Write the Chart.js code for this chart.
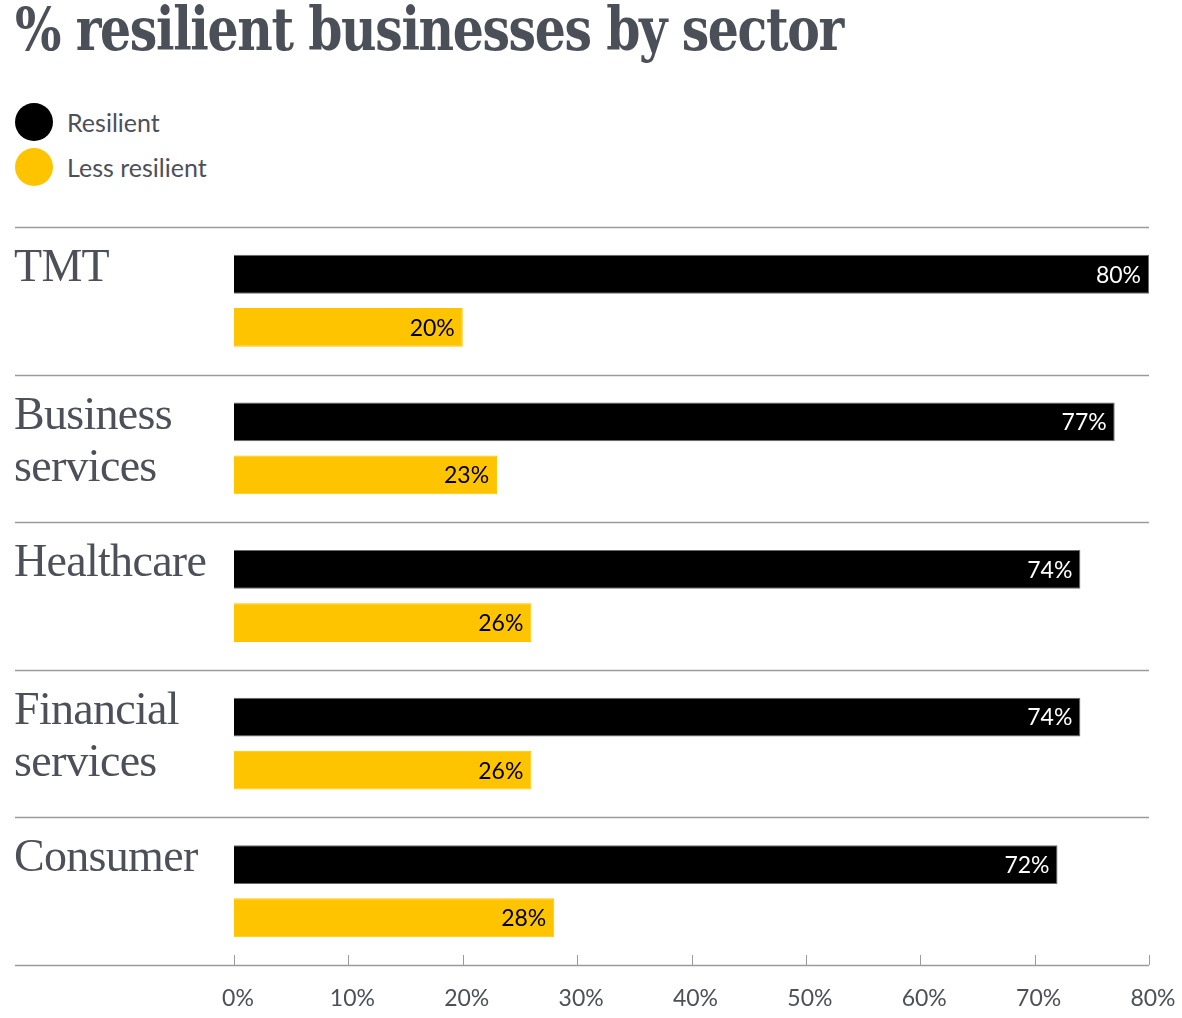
<!DOCTYPE html>
<html>
<head>
<meta charset="utf-8">
<script src="https://cdn.jsdelivr.net/npm/chart.js@4.4.0/dist/chart.umd.min.js"></script>
<style>
  body { margin: 0; background: #fff; width: 1182px; height: 1018px; overflow: hidden; position: relative; }
  #title { position: absolute; left: 15px; top: -6px; font-family: "DejaVu Serif Condensed", "DejaVu Serif", serif; font-weight: bold; font-size: 60px; letter-spacing: -1.5px; color: #4b4f58; white-space: nowrap; transform: scaleX(0.905); transform-origin: 0 0; }
  .leg { position: absolute; left: 15px; height: 38px; display: flex; align-items: center; font-family: Lato, sans-serif; font-size: 25px; color: #4d5059; }
  .leg i { display: inline-block; width: 38px; height: 38px; border-radius: 50%; margin-right: 14px; }
  #chartbox { position: absolute; left: 0; top: 220px; width: 1182px; height: 798px; }
</style>
</head>
<body>
<div id="title">% resilient businesses by sector</div>
<div class="leg" style="top:103px"><i style="background:#000"></i>Resilient</div>
<div class="leg" style="top:148px"><i style="background:#ffc400"></i>Less resilient</div>
<div id="chartbox"><canvas id="chart" width="1182" height="798"></canvas></div>
<script>
var sectors = [['TMT'], ['Business', 'services'], ['Healthcare'], ['Financial', 'services'], ['Consumer']];
var resilient = [80, 77, 74, 74, 72];
var lessResilient = [20, 23, 26, 26, 28];
var xTicks = [0, 10, 20, 30, 40, 50, 60, 70, 80];

var textGray = '#4d5059';
var lineGray = '#9a9aa0';

var sectorDecor = {
  id: 'sectorDecor',
  afterDraw: function (chart) {
    var ctx = chart.ctx;
    var xs = chart.scales.x;
    var ys = chart.scales.y;
    var area = chart.chartArea;
    ctx.save();

    // separators between sectors + base axis line
    ctx.strokeStyle = lineGray;
    ctx.lineWidth = 1.5;
    for (var i = 0; i <= sectors.length; i++) {
      var ey = Math.round(ys.getPixelForValue(i - 0.5)) + 0.5;
      ctx.beginPath();
      ctx.moveTo(15, ey);
      ctx.lineTo(area.right, ey);
      ctx.stroke();
    }

    // small tick marks pointing up from the axis
    ctx.lineWidth = 1;
    for (var t = 0; t < xTicks.length; t++) {
      var tx = Math.round(xs.getPixelForValue(xTicks[t])) + 0.5;
      ctx.beginPath();
      ctx.moveTo(tx, area.bottom - 10);
      ctx.lineTo(tx, area.bottom);
      ctx.stroke();
    }

    // sector names
    ctx.fillStyle = textGray;
    ctx.font = '46px "Liberation Serif", serif';
    ctx.letterSpacing = '-0.7px';
    ctx.textAlign = 'left';
    ctx.textBaseline = 'alphabetic';
    for (var s = 0; s < sectors.length; s++) {
      var top = ys.getPixelForValue(s - 0.5);
      for (var l = 0; l < sectors[s].length; l++) {
        ctx.fillText(sectors[s][l], 14, top + 54 + l * 52);
      }
    }
    ctx.letterSpacing = '0px';

    // value labels at bar ends
    ctx.font = '23px Lato, sans-serif';
    ctx.textAlign = 'right';
    ctx.textBaseline = 'middle';
    chart.data.datasets.forEach(function (ds, di) {
      var meta = chart.getDatasetMeta(di);
      ctx.fillStyle = di === 0 ? '#ffffff' : '#000000';
      meta.data.forEach(function (bar, bi) {
        ctx.fillText(ds.data[bi] + '%', bar.x - 8, bar.y + 1);
      });
    });
    ctx.restore();
  }
};

new Chart(document.getElementById('chart'), {
  type: 'bar',
  data: {
    labels: sectors.map(function (s) { return s.join(' '); }),
    datasets: [
      { label: 'Resilient', data: resilient, backgroundColor: '#000000', borderColor: '#6a6a6a', borderWidth: 1 },
      { label: 'Less resilient', data: lessResilient, backgroundColor: '#ffc400', borderColor: '#ffc400', borderWidth: 1 }
    ]
  },
  options: {
    indexAxis: 'y',
    responsive: false,
    animation: false,
    categoryPercentage: 0.72,
    barPercentage: 0.73,
    layout: { padding: { top: 7, right: 33, left: 0, bottom: 0 } },
    plugins: { legend: { display: false }, tooltip: { enabled: false } },
    scales: {
      x: {
        min: 0,
        max: 80,
        afterFit: function (scale) { scale.height = 53; scale.paddingRight = 0; scale.paddingLeft = 0; },
        afterBuildTicks: function (scale) { scale.ticks = xTicks.map(function (v) { return { value: v }; }); },
        ticks: {
          callback: function (v) { return v + '%'; },
          font: { family: 'Lato', size: 23 },
          color: textGray,
          padding: 20,
          labelOffset: 4,
          maxRotation: 0,
          autoSkip: false
        },
        grid: { display: false, drawTicks: false },
        border: { display: false }
      },
      y: {
        afterFit: function (scale) { scale.width = 234; },
        ticks: { display: false },
        grid: { display: false, drawTicks: false },
        border: { display: false }
      }
    }
  },
  plugins: [sectorDecor]
});
</script>
</body>
</html>
